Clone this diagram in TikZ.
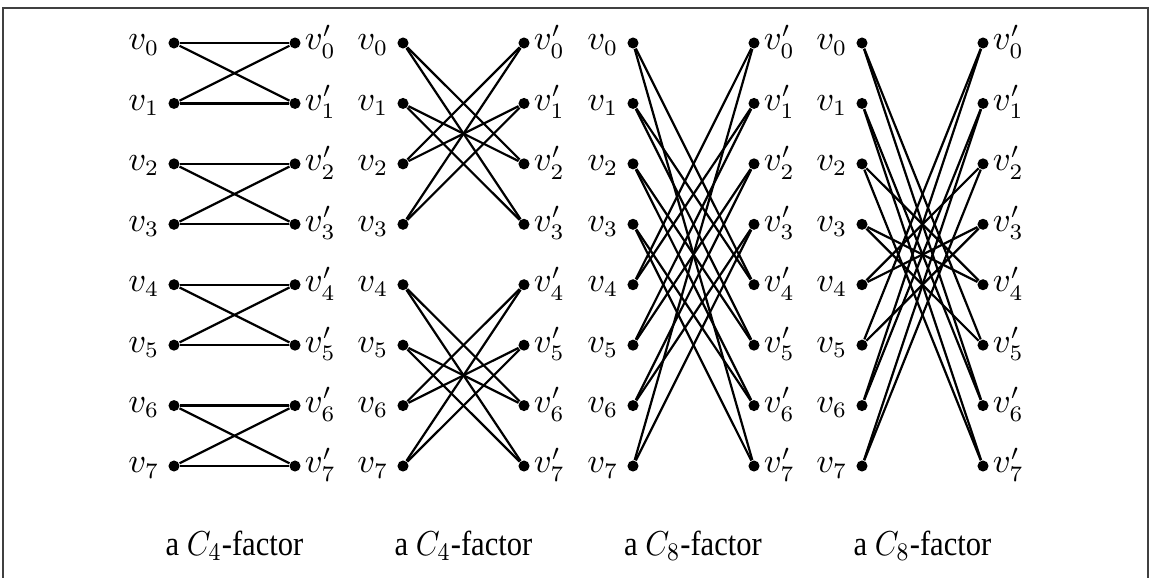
\documentclass[tikz,border=0pt]{standalone}
\usepackage{fontspec}
\setmainfont{Liberation Serif}
\begin{document}
\begin{tikzpicture}[x=0.3165pt,y=-0.3165pt,
  dot/.style={circle,fill=black,inner sep=0pt,minimum size=3.5pt},
  edge/.style={line width=0.7pt},
  lab/.style={inner sep=0pt,font=\fontsize{10.5}{12}\selectfont},
  captext/.style={inner sep=0pt,anchor=base,font=\fontsize{11}{13}\selectfont},
  frame/.style={line width=0.5pt,draw=black!75}]
\useasboundingbox (0,0) rectangle (1152,578);
\clip (0,0) rectangle (1152,578);
\draw[frame] (3,620) -- (3,8) -- (1148,8) -- (1148,620);
% vertices
\foreach \p/\xl in {1/174,2/403,3/633,4/862}{
  \foreach \i in {0,...,7}{
    \pgfmathsetmacro{\yy}{43+60.43*\i}
    \node[dot] (p\p l\i) at (\xl,\yy) {};
    \node[dot] (p\p r\i) at (\xl+121,\yy) {};
    \node[lab,anchor=base east] (p\p L\i) at ([xshift=-2.5pt,yshift=-2.2pt]p\p l\i.west) {$v_{\i}$};
    \node[lab,anchor=base west] (p\p R\i) at ([xshift=1pt,yshift=-2.2pt]p\p r\i.east) {$v'_{\i}$};
  }
}
% panel 1
\foreach \a/\b in {0/0,0/1,1/0,1/1,2/2,2/3,3/2,3/3,4/4,4/5,5/4,5/5,6/6,6/7,7/6,7/7}
  \draw[edge] (p1l\a) -- (p1r\b);
% panel 2
\foreach \a/\b in {0/2,0/3,1/2,1/3,2/0,2/1,3/0,3/1,4/6,4/7,5/6,5/7,6/4,6/5,7/4,7/5}
  \draw[edge] (p2l\a) -- (p2r\b);
% panel 3
\foreach \a/\b in {0/4,0/7,1/5,1/4,2/6,2/5,3/7,3/6,4/0,4/1,5/1,5/2,6/2,6/3,7/3,7/0}
  \draw[edge] (p3l\a) -- (p3r\b);
% panel 4
\foreach \a/\b in {0/5,0/6,1/6,1/7,2/7,2/4,3/4,3/5,4/3,4/2,5/0,5/3,6/1,6/0,7/2,7/1}
  \draw[edge] (p4l\a) -- (p4r\b);
% captions
\node[captext] (c1) at (234.5,555) {\scalebox{0.88}[1]{a $C_4$-factor}};
\node[captext] (c2) at (463.5,555) {\scalebox{0.88}[1]{a $C_4$-factor}};
\node[captext] (c3) at (693,555) {\scalebox{0.88}[1]{a $C_8$-factor}};
\node[captext] (c4) at (922.5,555) {\scalebox{0.88}[1]{a $C_8$-factor}};
\end{tikzpicture}
\end{document}
